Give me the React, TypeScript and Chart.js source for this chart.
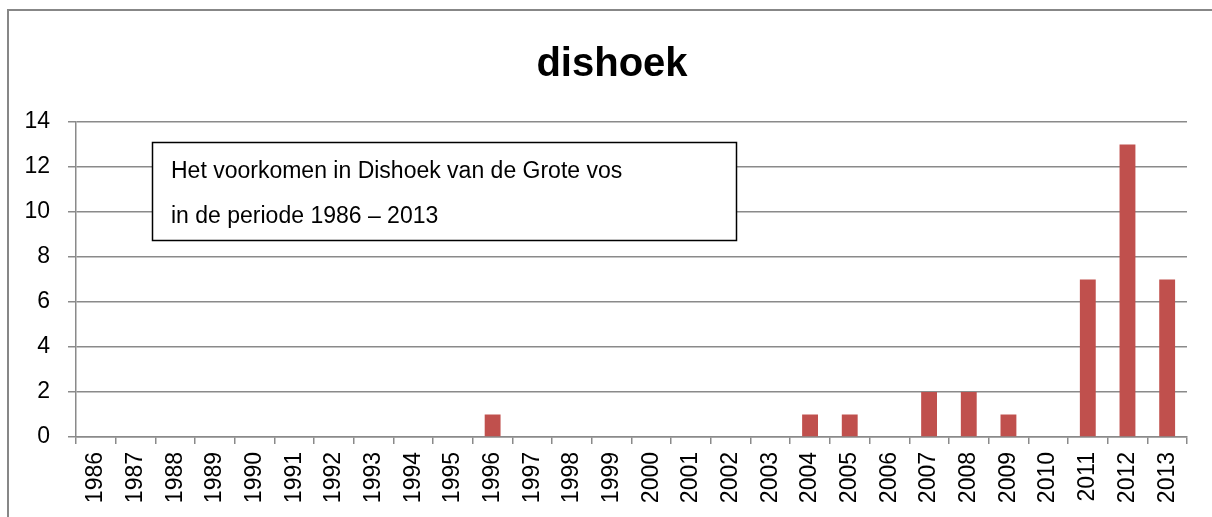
import React, { useEffect, useRef } from "react";
import { Chart, registerables } from "chart.js";

Chart.register(...registerables);

const years = [
  "1986", "1987", "1988", "1989", "1990", "1991", "1992", "1993", "1994", "1995",
  "1996", "1997", "1998", "1999", "2000", "2001", "2002", "2003", "2004", "2005",
  "2006", "2007", "2008", "2009", "2010", "2011", "2012", "2013",
];
const counts = [
  0, 0, 0, 0, 0, 0, 0, 0, 0, 0,
  1, 0, 0, 0, 0, 0, 0, 0, 1, 1,
  0, 2, 2, 1, 0, 7, 13, 7,
];
const chartTitle = "dishoek";
const noteLines = [
  "Het voorkomen in Dishoek van de Grote vos",
  "in de periode 1986 \u2013 2013",
];
const yTicks = [0, 2, 4, 6, 8, 10, 12, 14];

const FONT = "'Liberation Sans', Arial, sans-serif";
const GRID = "#8a8a8a";

const decorPlugin = {
  id: "decor",
  beforeDraw(chart: any) {
    const ctx = chart.ctx;
    ctx.save();
    ctx.fillStyle = "#ffffff";
    ctx.fillRect(0, 0, chart.width, chart.height);
    ctx.strokeStyle = "#878787";
    ctx.lineWidth = 2;
    ctx.beginPath();
    ctx.moveTo(8, chart.height + 2);
    ctx.lineTo(8, 10);
    ctx.lineTo(chart.width + 2, 10);
    ctx.stroke();
    ctx.restore();
  },
  afterDraw(chart: any) {
    const ctx = chart.ctx;
    ctx.save();
    // title
    ctx.fillStyle = "#000000";
    ctx.font = `bold 40px ${FONT}`;
    ctx.textAlign = "center";
    ctx.textBaseline = "alphabetic";
    ctx.fillText(chartTitle, 612, 76);
    // note box
    ctx.fillStyle = "#ffffff";
    ctx.fillRect(152, 142, 584, 98);
    ctx.strokeStyle = "#000000";
    ctx.lineWidth = 1.5;
    ctx.strokeRect(152.5, 142.5, 584, 98);
    ctx.fillStyle = "#000000";
    ctx.font = `23px ${FONT}`;
    ctx.textAlign = "left";
    ctx.textBaseline = "middle";
    ctx.fillText(noteLines[0], 171, 172);
    ctx.fillText(noteLines[1], 171, 217);
    ctx.restore();
  },
};

export default function App() {
  const canvasRef = useRef<HTMLCanvasElement | null>(null);

  useEffect(() => {
    const canvas = canvasRef.current;
    if (!canvas) return;
    const chart = new Chart(canvas, {
      type: "bar",
      data: {
        labels: years,
        datasets: [
          {
            label: "dishoek",
            data: counts,
            backgroundColor: "#C0504D",
            borderWidth: 0,
            barPercentage: 0.4,
            categoryPercentage: 1,
          },
        ],
      },
      options: {
        animation: false,
        responsive: false,
        maintainAspectRatio: false,
        layout: { padding: { left: 0, top: 122, right: 25, bottom: 0 } },
        plugins: {
          legend: { display: false },
          title: { display: false },
          tooltip: { enabled: false },
        },
        scales: {
          x: {
            offset: true,
            grid: {
              display: true,
              offset: true,
              drawOnChartArea: false,
              drawTicks: true,
              tickLength: 7,
              color: GRID,
              lineWidth: 1.5,
            },
            border: { display: true, color: GRID, width: 1.5 },
            ticks: {
              autoSkip: false,
              maxRotation: 90,
              minRotation: 90,
              padding: 8,
              color: "#000000",
              font: { family: FONT, size: 23 },
            },
            afterFit(scale: any) {
              scale.height = 80;
            },
          },
          y: {
            min: 0,
            max: 14,
            afterBuildTicks(scale: any) {
              scale.ticks = yTicks.map((v) => ({ value: v }));
            },
            grid: {
              display: true,
              drawTicks: true,
              tickLength: 8,
              color: GRID,
              lineWidth: 1.5,
            },
            border: { display: true, color: GRID, width: 1.5 },
            ticks: {
              padding: 18,
              color: "#000000",
              font: { family: FONT, size: 23 },
            },
            afterFit(scale: any) {
              scale.width = 76;
            },
          },
        },
      },
      plugins: [decorPlugin],
    });
    return () => chart.destroy();
  }, []);

  return (
    <div style={{ position: "fixed", left: 0, top: 0, width: 1212, height: 517, background: "#fff" }}>
      <canvas ref={canvasRef} width={1212} height={517} style={{ display: "block", width: 1212, height: 517 }} />
    </div>
  );
}
